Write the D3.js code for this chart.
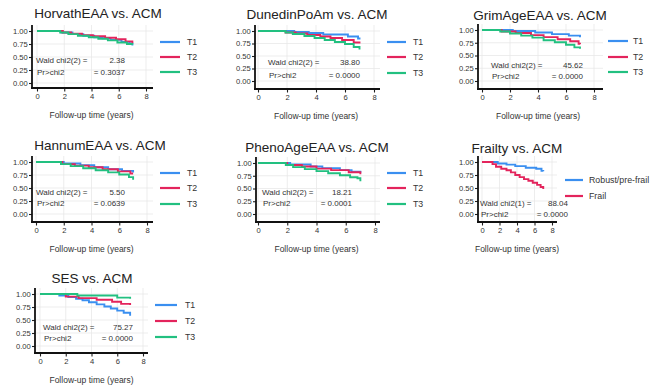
<!DOCTYPE html>
<html><head><meta charset="utf-8">
<script src="https://cdn.jsdelivr.net/npm/d3@7"></script>
<style>body{margin:0;background:#fff}svg{display:block}text{font-family:"Liberation Sans",Arial,sans-serif}</style>
</head><body><svg id="c" width="652" height="385"></svg>
<script>
// ---------- data ----------
const xTicks = [0, 2, 4, 6, 8];
const yTicks = [0, 0.25, 0.5, 0.75, 1];
const tercileLabels = ["T1", "T2", "T3"];
const frailtyLabels = ["Robust/pre-frail", "Frail"];
const titles = ["HorvathEAA vs. ACM", "DunedinPoAm vs. ACM", "GrimAgeEAA vs. ACM",
  "HannumEAA vs. ACM", "PhenoAgeEAA vs. ACM", "Frailty vs. ACM", "SES vs. ACM"];
const waldLabels = ["Wald chi2(2) =", "Wald chi2(2) =", "Wald chi2(2) =",
  "Wald chi2(2) =", "Wald chi2(2) =", "Wald chi2(1) =", "Wald chi2(2) ="];
const waldValues = ["2.38", "38.80", "45.62", "5.50", "18.21", "88.04", "75.27"];
const pValues = ["= 0.3037", "= 0.0000", "= 0.0000", "= 0.0639", "= 0.0001", "= 0.0000", "= 0.0000"];

// Kaplan-Meier step points [time, survival]
const horvathT1 = [[0,1],[1.8,0.97],[2.6,0.94],[3.4,0.91],[4.2,0.88],[4.8,0.86],[5.4,0.83],[6.2,0.79],[6.8,0.76],[7.0,0.72]];
const horvathT2 = [[0,1],[1.9,0.97],[2.5,0.95],[3.3,0.92],[4.1,0.90],[5.0,0.87],[5.8,0.84],[6.5,0.80],[7.0,0.77]];
const horvathT3 = [[0,1],[1.7,0.97],[2.3,0.94],[3.0,0.91],[3.8,0.88],[4.5,0.85],[5.2,0.82],[5.9,0.78],[6.6,0.75],[7.0,0.74]];
const dunedinT1 = [[0,1],[2.5,0.98],[3.5,0.96],[4.5,0.93],[6.2,0.89],[6.9,0.85],[7.0,0.83]];
const dunedinT2 = [[0,1],[1.9,0.97],[2.6,0.95],[3.4,0.92],[4.3,0.89],[5.0,0.86],[5.8,0.82],[6.6,0.77],[7.0,0.75]];
const dunedinT3 = [[0,1],[1.9,0.97],[2.4,0.94],[3.2,0.90],[3.9,0.86],[4.6,0.82],[5.3,0.78],[6.0,0.74],[6.6,0.68],[7.0,0.63]];
const grimT1 = [[0,1],[2.2,0.98],[3.8,0.95],[5.0,0.92],[6.2,0.89],[7.0,0.86]];
const grimT2 = [[0,1],[1.4,0.97],[2.4,0.94],[3.5,0.90],[4.4,0.86],[5.4,0.82],[6.3,0.78],[6.9,0.73],[7.0,0.72]];
const grimT3 = [[0,1],[1.3,0.97],[2.0,0.93],[2.8,0.89],[3.6,0.85],[4.4,0.80],[5.2,0.76],[6.0,0.71],[6.6,0.66],[7.0,0.63]];
const hannumT1 = [[0,1],[2.0,0.97],[3.2,0.94],[4.2,0.90],[5.2,0.86],[6.2,0.83],[7.0,0.80]];
const hannumT2 = [[0,1],[1.9,0.96],[2.8,0.93],[3.8,0.90],[4.8,0.86],[5.9,0.82],[6.8,0.78],[7.0,0.78]];
const hannumT3 = [[0,1],[1.8,0.96],[2.5,0.92],[3.4,0.88],[4.3,0.84],[5.2,0.80],[6.0,0.76],[6.7,0.71],[7.0,0.66]];
const phenoT1 = [[0,1],[2.2,0.97],[3.6,0.93],[4.4,0.90],[5.6,0.86],[6.4,0.83],[7.0,0.81]];
const phenoT2 = [[0,1],[2.0,0.96],[3.0,0.93],[4.0,0.89],[5.0,0.86],[6.2,0.82],[7.0,0.78]];
const phenoT3 = [[0,1],[1.9,0.96],[2.4,0.92],[3.2,0.88],[4.0,0.84],[4.8,0.80],[5.6,0.76],[6.3,0.72],[6.8,0.70],[7.0,0.64]];
const frailtyRobust = [[0,1],[1.8,0.97],[2.8,0.95],[3.8,0.92],[5.0,0.89],[6.2,0.87],[6.8,0.83],[7.0,0.82]];
const frailtyFrail = [[0,1],[1.2,0.96],[1.6,0.91],[2.2,0.87],[2.8,0.84],[3.3,0.80],[3.8,0.75],[4.3,0.71],[4.8,0.67],[5.3,0.64],[5.8,0.60],[6.3,0.56],[6.7,0.52],[7.0,0.48]];
const sesT1 = [[0,1],[1.5,0.97],[2.2,0.94],[2.8,0.91],[3.3,0.88],[3.8,0.84],[4.4,0.80],[5.0,0.76],[5.5,0.72],[6.0,0.68],[6.5,0.64],[7.0,0.58]];
const sesT2 = [[0,1],[2.0,0.95],[3.0,0.92],[4.4,0.89],[5.6,0.85],[6.3,0.81],[7.0,0.79]];
const sesT3 = [[0,1],[2.9,0.97],[6.0,0.93],[7.0,0.91]];

// ---------- layout ----------
const colors = ["#3a8ff0", "#e3245c", "#22c080"];
const panels = [
  {series:[horvathT1,horvathT2,horvathT3], labels:tercileLabels, ax:32, xr:[37,146], yr:[83,31], ay:88, axEnd:153, tx:98, ty:13,
   w:[36,125,60,72], lg:[160,180,187,[42,57,72]]},
  {series:[dunedinT1,dunedinT2,dunedinT3], labels:tercileLabels, ax:255, xr:[258,374], yr:[81,31], ay:89, axEnd:380, tx:317, ty:14,
   w:[268,360,62,75], lg:[387,406,413,[42,57,73]]},
  {series:[grimT1,grimT2,grimT3], labels:tercileLabels, ax:478, xr:[482,594], yr:[81,30], ay:89, axEnd:603, tx:540, ty:15,
   w:[491,583,65,76], lg:[608,628,633,[41,57,72]]},
  {series:[hannumT1,hannumT2,hannumT3], labels:tercileLabels, ax:32, xr:[36,147], yr:[214,162], ay:222, axEnd:153, tx:100, ty:145,
   w:[36,125,192,203], lg:[160,180,187,[173,188,204]]},
  {series:[phenoT1,phenoT2,phenoT3], labels:tercileLabels, ax:256, xr:[258,375], yr:[214,163], ay:222, axEnd:380, tx:317, ty:147,
   w:[262,352,192,203], lg:[387,406,413,[173,188,204]]},
  {series:[frailtyRobust,frailtyFrail], labels:frailtyLabels, ax:478, xr:[482,552], yr:[214,162], ay:222, axEnd:557, tx:517, ty:148,
   w:[480,568,203,214], lg:[565,583,589,[180,196]]},
  {series:[sesT1,sesT2,sesT3], labels:tercileLabels, ax:35, xr:[40,143], yr:[346,294], ay:353, axEnd:148, tx:92, ty:278,
   w:[43,133,327,338], lg:[155,177,185,[305,321,337]]}
];

const svg = d3.select("#c");
const ink = "#1e1e1e";
panels.forEach((p, i) => {
  const g = svg.append("g");
  const x = d3.scaleLinear().domain([0, 8]).range(p.xr);
  const y = d3.scaleLinear().domain([0, 1]).range(p.yr);
  const top = p.yr[1] - 6;
  // grid
  g.selectAll(".gx").data(xTicks).join("line")
    .attr("x1", d => x(d)).attr("x2", d => x(d)).attr("y1", top).attr("y2", p.ay)
    .attr("stroke", "#e8e8e8").attr("stroke-width", 0.8);
  g.selectAll(".gy").data(yTicks).join("line")
    .attr("x1", p.ax).attr("x2", p.axEnd).attr("y1", d => y(d)).attr("y2", d => y(d))
    .attr("stroke", "#e8e8e8").attr("stroke-width", 0.8);
  // curves
  const line = d3.line().x(d => x(d[0])).y(d => y(d[1])).curve(d3.curveStepAfter);
  p.series.forEach((s, k) => {
    g.append("path").attr("d", line(s)).attr("fill", "none")
      .attr("stroke", colors[k]).attr("stroke-width", 1.9);
  });
  // axes
  const xa = g.append("g").attr("transform", `translate(0,${p.ay})`)
    .call(d3.axisBottom(x).tickValues(xTicks).tickSize(3.5).tickPadding(2).tickFormat(d3.format("d")));
  const ya = g.append("g").attr("transform", `translate(${p.ax},0)`)
    .call(d3.axisLeft(y).tickValues(yTicks).tickSize(3).tickPadding(1.2).tickFormat(d3.format(".2f")));
  [xa, ya].forEach(a => {
    a.select(".domain").remove();
    a.selectAll("line").attr("stroke", ink).attr("stroke-width", 1.1);
    a.selectAll("text").attr("font-size", 7.6).attr("fill", "#333");
  });
  g.append("line").attr("x1", p.ax).attr("x2", p.ax).attr("y1", top).attr("y2", p.ay + 0.9)
    .attr("stroke", "#111").attr("stroke-width", 1.8);
  g.append("line").attr("x1", p.ax - 0.9).attr("x2", p.axEnd).attr("y1", p.ay).attr("y2", p.ay)
    .attr("stroke", "#111").attr("stroke-width", 1.8);
  // titles
  g.append("text").attr("x", p.tx).attr("y", p.ty + 4.8).attr("text-anchor", "middle")
    .attr("font-size", 13.5).attr("fill", "#222").text(titles[i]);
  g.append("text").attr("x", (p.xr[0] + p.xr[1]) / 2).attr("y", p.ay + 27 + 3).attr("text-anchor", "middle")
    .attr("font-size", 8.5).attr("fill", "#333").text("Follow-up time (years)");
  // Wald text
  const wf = 8;
  g.append("text").attr("x", p.w[0]).attr("y", p.w[2] + 2.8).attr("font-size", wf).attr("fill", "#333").text(waldLabels[i]);
  g.append("text").attr("x", p.w[1]).attr("y", p.w[2] + 2.8).attr("font-size", wf).attr("text-anchor", "end").attr("fill", "#333").text(waldValues[i]);
  g.append("text").attr("x", p.w[0] + 1).attr("y", p.w[3] + 2.8).attr("font-size", wf).attr("fill", "#333").text("Pr>chi2");
  g.append("text").attr("x", p.w[1]).attr("y", p.w[3] + 2.8).attr("font-size", wf).attr("text-anchor", "end").attr("fill", "#333").text(pValues[i]);
  // legend
  p.labels.forEach((lab, k) => {
    const ly = p.lg[3][k];
    g.append("line").attr("x1", p.lg[0]).attr("x2", p.lg[1]).attr("y1", ly).attr("y2", ly)
      .attr("stroke", colors[k]).attr("stroke-width", 2.2);
    g.append("text").attr("x", p.lg[2]).attr("y", ly + 3.2).attr("font-size", 8.8).attr("fill", "#333").text(lab);
  });
});
</script></body></html>
